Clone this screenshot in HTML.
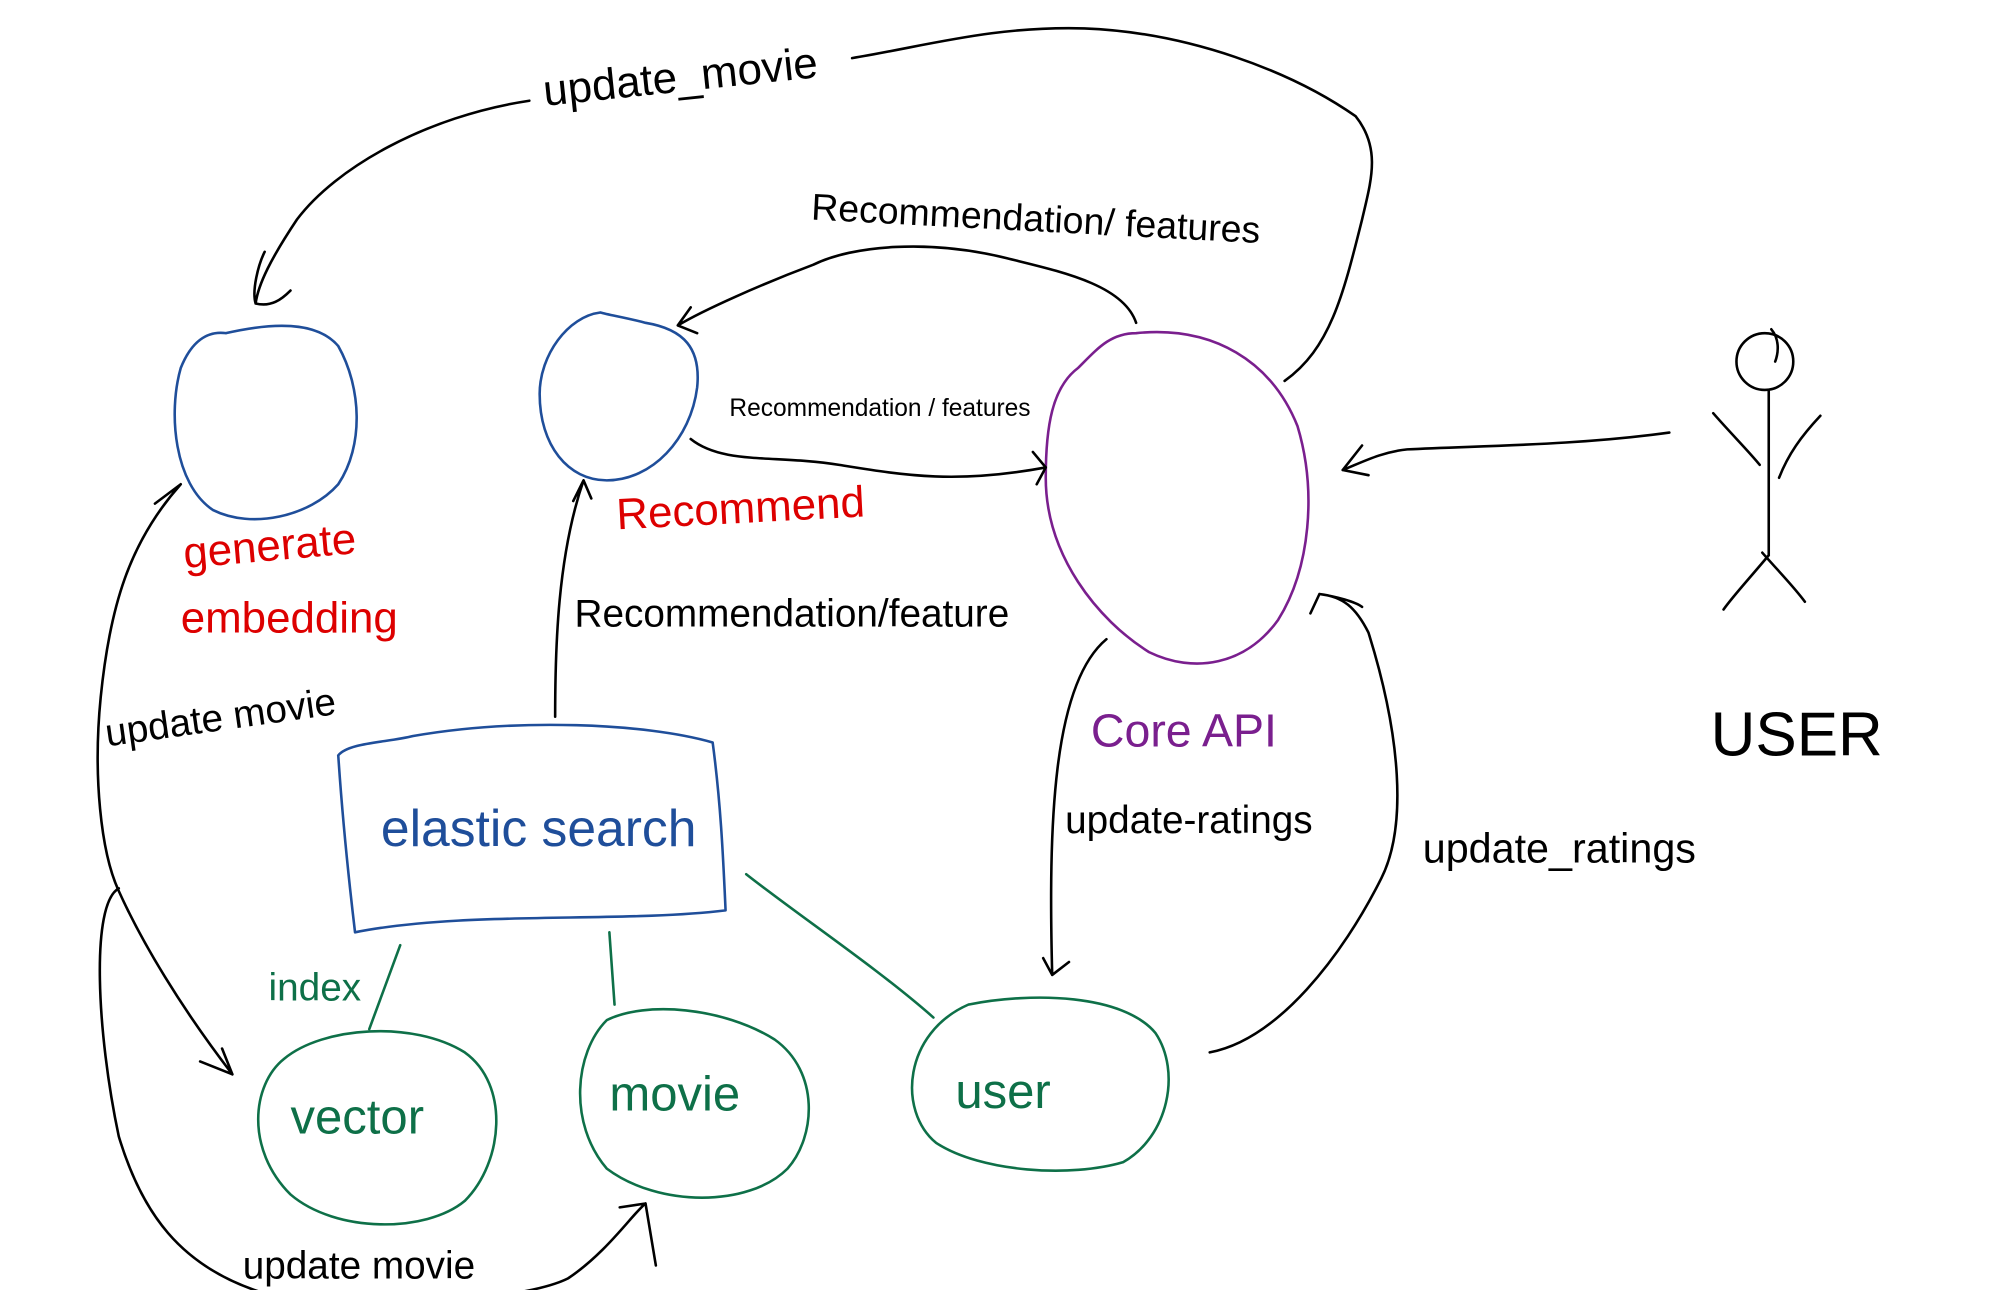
<!DOCTYPE html>
<html><head><meta charset="utf-8"><style>
html,body{margin:0;padding:0;background:#fff;width:2005px;height:1290px;overflow:hidden}
svg{display:block}
text{font-family:"Liberation Sans",sans-serif;font-weight:normal}
</style></head><body>
<svg width="2005" height="1290" viewBox="0 0 1553 999" preserveAspectRatio="none" xmlns="http://www.w3.org/2000/svg">
<g fill="none" stroke-width="2" stroke-linecap="round" stroke-linejoin="round">
<path d="M175,258 C210,250 245,248 262,268 C280,300 282,345 262,375 C240,400 195,410 165,395 C135,375 130,320 140,285 C148,265 160,256 175,258" stroke="#1f4e9a"/>
<path d="M465,242 C440,245 418,275 418,305 C418,345 440,372 470,372 C505,372 535,340 540,300 C543,270 530,255 500,250 C485,246 472,244 465,242" stroke="#1f4e9a"/>
<path d="M880,258 C940,252 985,280 1005,330 C1020,380 1015,440 990,480 C965,515 925,522 890,505 C850,480 810,430 810,370 C810,330 815,300 835,285 C850,270 860,258 880,258" stroke="#7a1f8e"/>
<path d="M262,585 C270,575 300,575 320,570 C400,556 500,560 552,575 C558,620 560,660 562,705 C480,715 360,705 275,722 C270,680 265,630 262,585" stroke="#1f4e9a"/>
<path d="M220,820 C250,795 320,790 360,815 C395,840 390,900 360,930 C330,955 260,955 225,925 C190,890 195,840 220,820" stroke="#0e7048"/>
<path d="M470,790 C500,775 560,780 600,805 C635,830 632,880 610,905 C580,935 510,935 470,905 C440,870 445,815 470,790" stroke="#0e7048"/>
<path d="M750,778 C800,768 870,770 895,800 C915,830 905,880 870,900 C830,912 760,908 725,885 C695,860 700,800 750,778" stroke="#0e7048"/>
<path d="M286,797 L310,732 M472,722 L476,778 M578,677 C620,710 680,750 723,788" stroke="#0e7048"/>
</g>
<g fill="none" stroke="#000" stroke-width="2" stroke-linecap="round" stroke-linejoin="round">
<path d="M410,78 C330,90 260,130 230,170 C210,200 200,220 198,235 M198,235 C195,225 200,205 205,195 M198,235 C210,238 218,232 225,225"/>
<path d="M660,45 C720,35 770,20 840,22 C920,25 1000,55 1050,90 C1070,115 1062,140 1055,170 C1040,230 1030,270 995,295"/>
<path d="M880,250 C870,220 820,210 780,200 C720,185 660,190 630,205 C590,220 545,240 525,252 M525,252 L535,238 M525,252 L540,258"/>
<path d="M535,340 C560,360 600,352 650,360 C700,368 740,375 810,362 M810,362 L800,350 M810,362 L803,375"/>
<path d="M430,555 C430,500 432,430 452,372 M452,372 L444,388 M452,372 L458,386"/>
<path d="M1293,335 C1220,345 1150,345 1090,348 C1070,350 1055,358 1040,364 M1040,364 L1055,345 M1040,364 L1060,368"/>
<path d="M857,495 C815,530 812,640 815,755 M815,755 L808,742 M815,755 L828,745"/>
<path d="M937,815 C990,805 1040,740 1070,680 C1090,640 1085,570 1060,490 C1050,470 1040,462 1022,460 M1022,460 L1015,475 M1022,460 C1035,462 1050,466 1055,470"/>
<path d="M140,375 C100,420 85,470 78,540 C72,600 78,660 92,690 C110,730 140,780 180,832 M180,832 L155,822 M180,832 L172,812 M140,375 L120,390"/>
<path d="M92,688 C70,700 75,800 92,880 C110,940 140,980 200,1000 C260,1015 400,1010 440,990 C470,970 490,940 500,932 M500,932 L480,935 M500,932 L508,980"/>
<circle cx="1367" cy="280" r="22"/>
<path d="M1372,255 C1378,262 1378,272 1375,280 M1370,303 L1370,430 M1327,320 C1340,335 1355,350 1363,360 M1410,322 C1395,338 1385,352 1378,370 M1370,430 C1355,448 1342,462 1335,472 M1365,428 C1380,445 1390,455 1398,466"/>
</g>
<g font-size="34">
<text x="422" y="82" transform="rotate(-6 422 82)" fill="#000">update_movie</text>
<text x="628" y="170" font-size="29" fill="#000" transform="rotate(3 628 170)">Recommendation/ features</text>
<text x="565" y="322" font-size="19" fill="#000">Recommendation / features</text>
<text x="478" y="410" fill="#d00" transform="rotate(-3 478 410)">Recommend</text>
<text x="143" y="440" fill="#d00" transform="rotate(-5 143 440)">generate</text>
<text x="140" y="490" fill="#d00">embedding</text>
<text x="445" y="485" font-size="30" fill="#000">Recommendation/feature</text>
<text x="83" y="578" font-size="30" fill="#000" transform="rotate(-8 83 578)">update movie</text>
<text x="845" y="578" font-size="36" fill="#7a1f8e">Core API</text>
<text x="295" y="655" font-size="40" fill="#1f4e9a">elastic search</text>
<text x="825" y="645" font-size="30" fill="#000">update-ratings</text>
<text x="1102" y="668" font-size="32" fill="#000">update_ratings</text>
<text x="1325" y="585" font-size="48" fill="#000">USER</text>
<text x="208" y="775" font-size="30" fill="#0e7048">index</text>
<text x="225" y="878" font-size="38" fill="#0e7048">vector</text>
<text x="472" y="860" font-size="38" fill="#0e7048">movie</text>
<text x="740" y="858" font-size="38" fill="#0e7048">user</text>
<text x="188" y="990" font-size="30" fill="#000">update movie</text>
</g>
</svg>
</body></html>
